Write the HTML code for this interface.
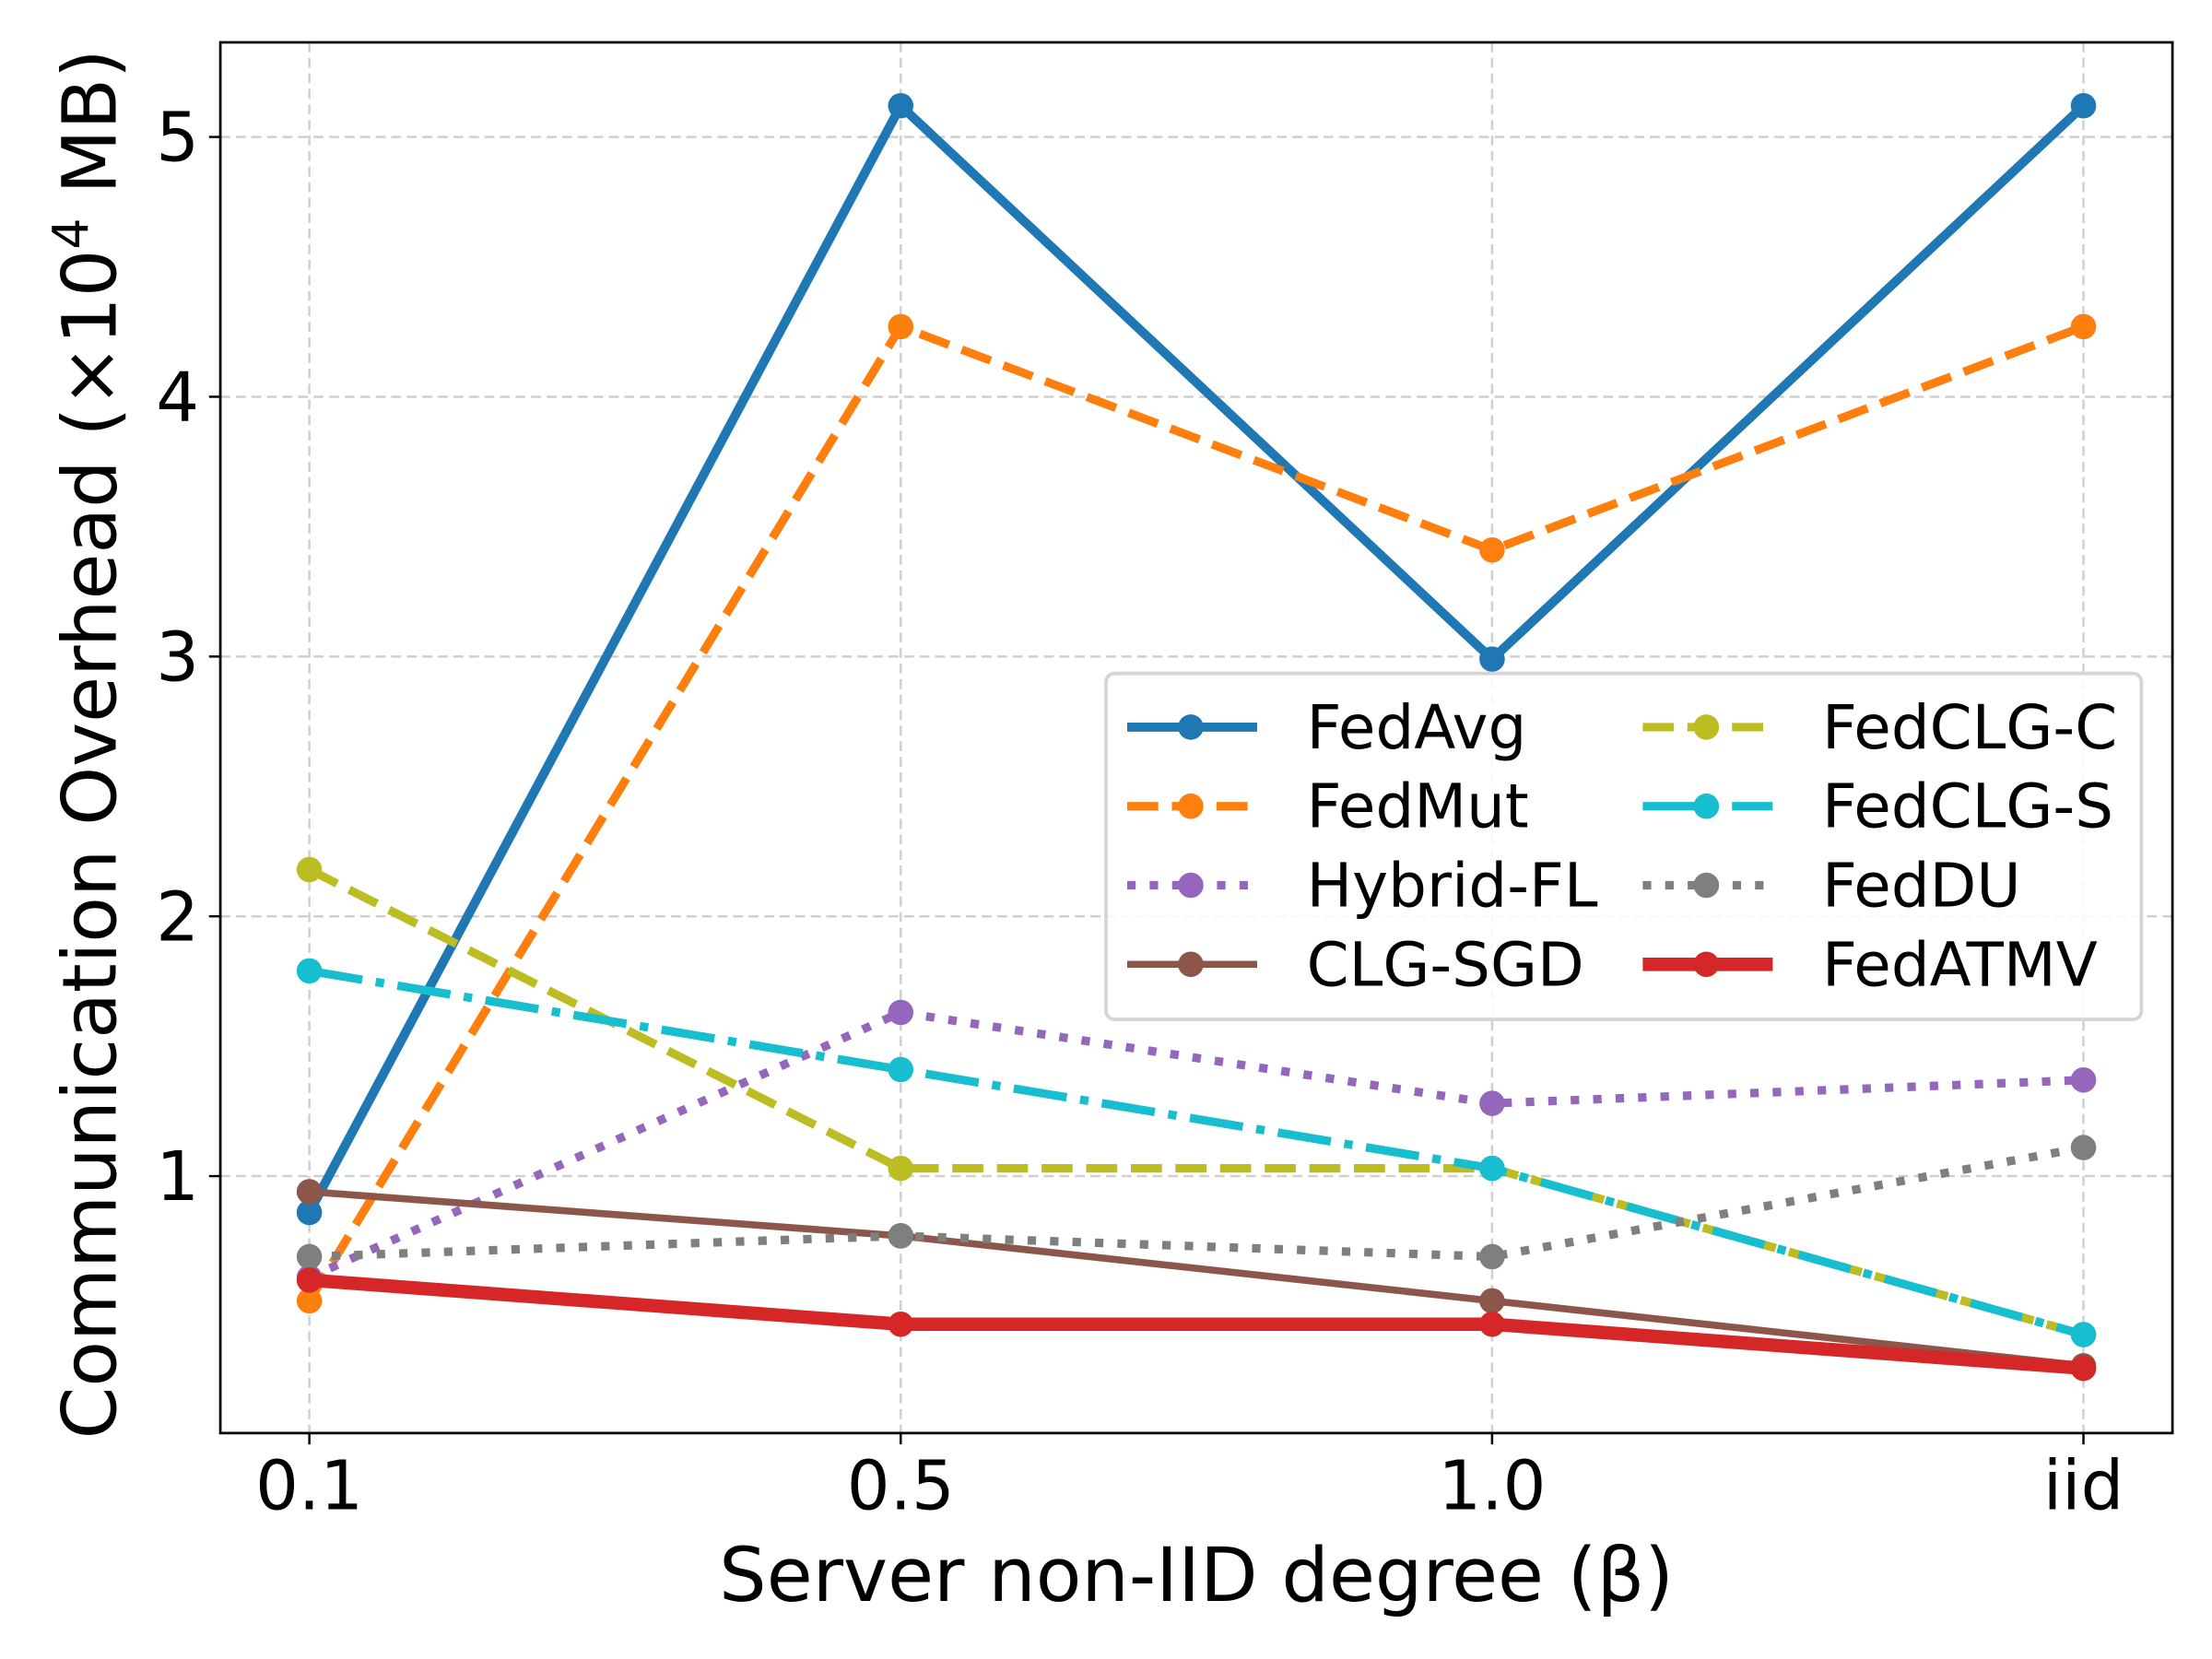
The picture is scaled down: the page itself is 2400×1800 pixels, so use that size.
<!DOCTYPE html>
<html><head><meta charset="utf-8"><style>html,body{margin:0;padding:0;background:#fff}svg{display:block}</style></head>
<body>
<svg id="chart" width="2400" height="1800" viewBox="0 0 1566 1175" preserveAspectRatio="none" xmlns="http://www.w3.org/2000/svg" font-family="DejaVu Sans, Liberation Sans, sans-serif">
<rect width="1566" height="1175" fill="#fff"/>
<g id="grid"></g>
<g id="series"></g>
<rect x="156" y="30" width="1382" height="985" fill="none" stroke="#000" stroke-width="1.8"/>
<g id="ticks"></g>
<text x="847" y="1134" font-size="53" text-anchor="middle">Server non-IID degree (β)</text>
<text transform="translate(82,527) rotate(-90)" font-size="53" text-anchor="middle">Communication Overhead (×10<tspan font-size="35" dy="-20">4</tspan><tspan dy="20"> MB)</tspan></text>
<g id="legend">
<rect x="783" y="477" width="733" height="245" rx="6" fill="#fff" fill-opacity="0.85" stroke="#d5d5d5" stroke-width="2.5"/>
</g>
</svg>
<script>
const categories = ["0.1","0.5","1.0","iid"];
const yTicks = [1,2,3,4,5];
const seriesNames = ["FedAvg","FedMut","Hybrid-FL","CLG-SGD","FedCLG-C","FedCLG-S","FedDU","FedATMV"];
const fedAvg = [0.86,5.12,2.99,5.12];
const fedMut = [0.52,4.27,3.41,4.27];
const hybridFL = [0.61,1.63,1.28,1.37];
const clgSGD = [0.94,0.77,0.52,0.27];
const fedCLGC = [2.18,1.03,1.03,0.39];
const fedCLGS = [1.79,1.41,1.03,0.39];
const fedDU = [0.69,0.77,0.69,1.11];
const fedATMV = [0.60,0.43,0.43,0.26];

const NS="http://www.w3.org/2000/svg";
function xPos(i){return 219+i*(1475-219)/(categories.length-1);}
function yPos(v){return 1017-184*v;}
function mk(tag,attrs,parent){const e=document.createElementNS(NS,tag);for(const k in attrs)e.setAttribute(k,attrs[k]);parent.appendChild(e);return e;}
const grid=document.getElementById('grid'),ticks=document.getElementById('ticks'),sg=document.getElementById('series'),lg=document.getElementById('legend');
categories.forEach((c,i)=>{
  const x=xPos(i);
  const g=mk('line',{x1:x,x2:x,y1:30,y2:1015,stroke:'#cfcfcf','stroke-width':1.6,'stroke-dasharray':'7,4'},grid);
  
  
  const t=mk('line',{x1:x,x2:x,y1:1015,y2:1023,stroke:'#000','stroke-width':1.6},ticks);
  
  
  const l=mk('text',{x:x,y:1069,'font-size':48,'text-anchor':'middle'},ticks);l.textContent=c;
  
  
});
yTicks.forEach(v=>{
  const y=yPos(v);
  const g=mk('line',{x1:156,x2:1538,y1:y,y2:y,stroke:'#cfcfcf','stroke-width':1.6,'stroke-dasharray':'7,4'},grid);
  
  
  const t=mk('line',{x1:148,x2:156,y1:y,y2:y,stroke:'#000','stroke-width':1.6},ticks);
  
  
  const l=mk('text',{x:141,y:y+17,'font-size':48,'text-anchor':'end'},ticks);l.textContent=String(v);
  
  
});
const styles=[
 {d:fedAvg,c:'#1f77b4',w:6.5,dash:''},
 {d:fedMut,c:'#ff7f0e',w:6,dash:'22,9.6'},
 {d:hybridFL,c:'#9467bd',w:6,dash:'6,9.9'},
 {d:clgSGD,c:'#8c564b',w:5,dash:''},
 {d:fedCLGC,c:'#bcbd22',w:6,dash:'22,9.6'},
 {d:fedCLGS,c:'#17becf',w:6,dash:'38,9.6,6,9.6'},
 {d:fedDU,c:'#7f7f7f',w:6,dash:'6,9.9'},
 {d:fedATMV,c:'#d62728',w:9.5,dash:''}
];
styles.forEach((s,si)=>{
  const g=mk('g',{},sg);
  
  
  const pts=s.d.map((v,i)=>xPos(i)+','+yPos(v)).join(' ');
  const pl=mk('polyline',{points:pts,fill:'none',stroke:s.c,'stroke-width':s.w,'stroke-dasharray':s.dash||'none','stroke-linejoin':'round'},g);
  
  
  s.d.forEach((v,i)=>{
    const c=mk('circle',{cx:xPos(i),cy:yPos(v),r:9,fill:s.c},g);
    
    
  });
  const col=si<4?0:1,row=si%4;
  const lx=col?1163:798,ly=515+row*56;
  const e=mk('g',{},lg);
  
  
  mk('line',{x1:lx,x2:lx+92,y1:ly,y2:ly,stroke:s.c,'stroke-width':s.w,'stroke-dasharray':s.dash||'none'},e);
  mk('circle',{cx:lx+45,cy:ly,r:9,fill:s.c},e);
  const t=mk('text',{x:col?1290:925,y:ly+15,'font-size':43},e);t.textContent=seriesNames[si];
});
</script>
</body></html>
